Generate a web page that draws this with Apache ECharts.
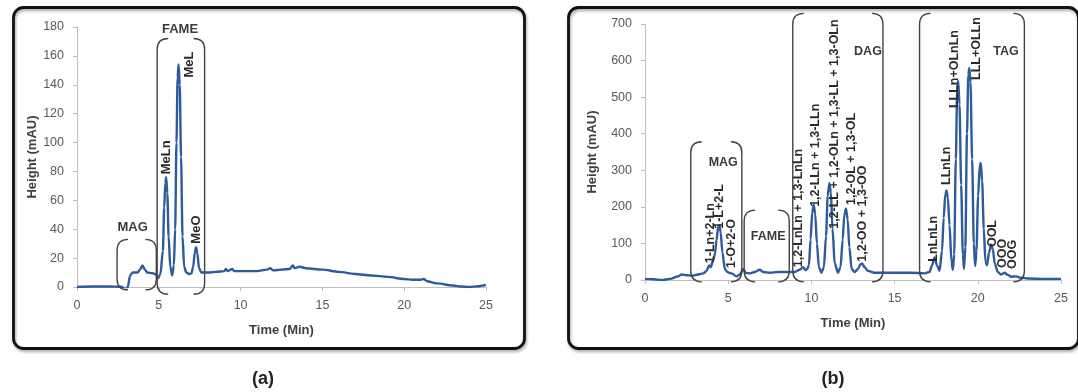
<!DOCTYPE html>
<html><head><meta charset="utf-8">
<script src="https://cdn.jsdelivr.net/npm/echarts@6/dist/echarts.min.js"></script>
<style>html,body{margin:0;padding:0;background:#fff}#c{width:1078px;height:392px}</style>
</head><body><div id="c"></div>
<script>
// ---- Data ----
// (a) chromatogram: [time (min), height (mAU)]
const traceA = [[0,0],[1,0.3],[2,0.3],[2.7,0.2],[2.9,-1],[3.0,-2],[3.1,0],[3.25,8],[3.4,10],[3.7,10],[3.85,12],[4.0,15],[4.15,12],[4.3,10],[4.6,9.5],[4.8,9],[4.95,6],[5.1,9],[5.25,25],[5.33,55],[5.4,72],[5.45,76],[5.52,65],[5.6,35],[5.7,14],[5.82,8],[5.92,15],[6.0,40],[6.08,100],[6.15,145],[6.21,154],[6.28,140],[6.36,90],[6.45,35],[6.55,14],[6.68,10],[6.85,9],[7.0,9.5],[7.1,14],[7.2,24],[7.28,27.5],[7.36,23],[7.46,13],[7.6,10],[8,10],[8.5,10.5],[9.0,11],[9.1,12.5],[9.2,11],[9.5,12.5],[9.6,11],[10,11],[11,11],[11.6,12],[11.8,13],[12,11.5],[12.5,12],[13.0,12.5],[13.2,15],[13.3,13],[13.6,14],[14,13],[15,12],[16,10.5],[17,9],[18,8],[19,7],[20,5.5],[20.5,5],[21,5],[21.2,5.5],[21.4,4],[22,2.5],[23,1],[23.5,0.3],[24,0],[24.5,0.5],[25,1.5]];
// (b) chromatogram
const traceB = [[0,3],[0.5,2],[1,0],[1.5,3],[2,10],[2.2,15],[2.5,13],[2.8,12],[3.2,15],[3.5,18],[3.7,25],[3.85,40],[3.95,35],[4.1,55],[4.2,70],[4.3,110],[4.4,145],[4.47,150],[4.55,130],[4.65,75],[4.8,30],[4.95,22],[5.05,20],[5.2,18],[5.5,10],[5.7,15],[5.9,30],[6.05,20],[6.3,18],[6.6,22],[6.9,28],[7.1,22],[7.5,20],[8,22],[8.5,22],[9,22],[9.3,28],[9.5,35],[9.65,27],[9.75,30],[9.85,40],[9.95,110],[10.05,185],[10.14,205],[10.23,180],[10.33,100],[10.45,35],[10.6,20],[10.75,35],[10.88,120],[10.98,230],[11.08,265],[11.17,240],[11.27,140],[11.4,45],[11.6,20],[11.75,35],[11.88,110],[11.98,180],[12.08,195],[12.18,165],[12.28,90],[12.42,30],[12.6,22],[12.8,30],[12.95,43],[13.05,45],[13.2,35],[13.4,25],[13.8,20],[14.5,20],[15,20],[16,20],[16.8,18],[17.1,22],[17.25,40],[17.4,62],[17.55,40],[17.7,25],[17.85,80],[17.95,170],[18.05,235],[18.12,245],[18.2,225],[18.3,150],[18.42,50],[18.5,28],[18.58,70],[18.68,330],[18.76,520],[18.82,545],[18.9,480],[19.0,260],[19.1,70],[19.17,30],[19.25,90],[19.35,400],[19.43,560],[19.49,580],[19.56,540],[19.66,330],[19.76,100],[19.84,38],[19.92,80],[20.02,230],[20.12,315],[20.18,320],[20.26,270],[20.36,140],[20.46,50],[20.55,40],[20.68,75],[20.8,97],[20.9,85],[21.02,45],[21.2,22],[21.4,15],[21.6,20],[21.8,14],[22,9],[22.3,10],[22.6,6],[23,4],[24,3],[25,3]];
// brackets: [xLeft, xRight, yTop, yBottom]
const bracketsA = [[2.45,4.85,33,-2],[4.9,7.8,172,-5]];
const bracketsB = [[2.75,5.82,378,-5],[5.96,8.67,191,-5],[8.88,14.3,729,-5],[16.5,22.8,729,-5]];
// group names: [x, y, text]
const groupsA = [[3.4,41,'MAG'],[6.3,178,'FAME']];
const groupsB = [[4.7,321,'MAG'],[7.4,118,'FAME'],[13.4,624,'DAG'],[21.7,624,'TAG']];
// peak names (vertical, reading upwards): [x, y of text start, text]
const peaksA = [[5.44,78,'MeLn'],[6.9,145,'MeL'],[7.27,30,'MeO']];
const peaksB = [[3.95,46,'1-Ln+2-Ln'],[4.5,140,'1-L+2-L'],[5.18,33,'1-O+2-O'],[9.2,35,'1,2-LnLn + 1,3-LnLn'],[10.25,200,'1,2-LLn + 1,3-LLn'],[11.42,140,'1,2-LL + 1,2-OLn + 1,3-LL + 1,3-OLn'],[12.4,205,'1,2-OL + 1,3-OL'],[13.1,50,'1,2-OO + 1,3-OO'],[17.35,50,'LnLnLn'],[18.1,260,'LLnLn'],[18.58,470,'LLLn+OLnLn'],[19.9,547,'LLL+OLLn'],[20.9,90,'OOL'],[21.5,33,'OOO'],[22.1,30,'OOG']];

// ---- Chart ----
const FONT = '"Liberation Sans", Arial, sans-serif';
const lineColor = '#2e5a9e';

function bracketItem(list){
  return function(params, api){
    const b = list[params.dataIndex];
    const p0 = api.coord([b[0], b[2]]);
    const p1 = api.coord([b[1], b[3]]);
    const x0=p0[0], x1=p1[0], yt=p0[1], yb=p1[1], r=11;
    const d = 'M'+(x0+r)+','+yt+' Q'+x0+','+yt+' '+x0+','+(yt+r)+' L'+x0+','+(yb-r)+' Q'+x0+','+yb+' '+(x0+r)+','+yb+
              ' M'+(x1-r)+','+yt+' Q'+x1+','+yt+' '+x1+','+(yt+r)+' L'+x1+','+(yb-r)+' Q'+x1+','+yb+' '+(x1-r)+','+yb;
    return {type:'path', shape:{pathData:d, layout:'cover', x:x0, y:yt, width:x1-x0, height:yb-yt},
            style:{stroke:'#444', fill:null, lineWidth:1.4}};
  };
}
function groupItem(list, size){
  return function(params, api){
    const g = list[params.dataIndex];
    const p = api.coord([g[0], g[1]]);
    return {type:'text', x:p[0], y:p[1], style:{text:g[2], align:'center', verticalAlign:'middle',
      font:'bold '+size+'px '+FONT, fill:'#3a3a3a'}};
  };
}
function peakItem(list, size){
  return function(params, api){
    const g = list[params.dataIndex];
    const p = api.coord([g[0], g[1]]);
    return {type:'text', x:p[0], y:p[1], rotation:Math.PI/2, style:{text:g[2], align:'left', verticalAlign:'middle',
      font:'bold '+size+'px '+FONT, fill:'#2a2a2a'}};
  };
}

const axisLabel = {color:'#595959', fontSize:12.5, fontFamily:FONT};
const axisLine = {show:true, lineStyle:{color:'#bfbfbf', width:1}};
const axisTick = {show:true, length:4, lineStyle:{color:'#bfbfbf'}};
const nameStyle = {color:'#404040', fontSize:13, fontWeight:'bold', fontFamily:FONT};

function xAxis(gi){
  return {type:'value', gridIndex:gi, min:0, max:25, interval:5, axisLabel:Object.assign({margin:12}, axisLabel),
    axisLine, axisTick, splitLine:{show:false}, name:'Time (Min)', nameLocation:'middle', nameGap:37, nameTextStyle:nameStyle};
}
function yAxis(gi, max, step, gap){
  return {type:'value', gridIndex:gi, min:0, max:max, interval:step, axisLabel:Object.assign({margin:13}, axisLabel),
    axisLine, axisTick, splitLine:{show:false}, name:'Height (mAU)', nameLocation:'middle', nameGap:gap, nameTextStyle:nameStyle};
}

const chart = echarts.init(document.getElementById('c'), null, {renderer:'canvas'});
chart.setOption({
  animation:false,
  backgroundColor:'#ffffff',
  grid:[
    {left:77, top:27, width:409, height:260},
    {left:645, top:24, width:416, height:256}
  ],
  xAxis:[xAxis(0), xAxis(1)],
  yAxis:[yAxis(0,180,20,33), yAxis(1,700,100,46)],
  graphic:[
    {type:'rect', left:11, top:5, shape:{width:511, height:341, r:10}, z:-1,
     style:{fill:'none', stroke:'#111', lineWidth:2.8, shadowBlur:3, shadowColor:'rgba(0,0,0,0.35)', shadowOffsetX:1, shadowOffsetY:2}},
    {type:'rect', left:566, top:5, shape:{width:510, height:341, r:10}, z:-1,
     style:{fill:'none', stroke:'#111', lineWidth:2.8, shadowBlur:3, shadowColor:'rgba(0,0,0,0.35)', shadowOffsetX:1, shadowOffsetY:2}},
    {type:'text', x:263, y:379, style:{text:'(a)', font:'bold 18px '+FONT, fill:'#222', align:'center', verticalAlign:'middle'}},
    {type:'text', x:833, y:379, style:{text:'(b)', font:'bold 18px '+FONT, fill:'#222', align:'center', verticalAlign:'middle'}}
  ],
  series:[
    {type:'line', xAxisIndex:0, yAxisIndex:0, data:traceA, showSymbol:false, smooth:0.3, smoothMonotone:'x',
     lineStyle:{color:lineColor, width:2.4}, z:3},
    {type:'line', xAxisIndex:1, yAxisIndex:1, data:traceB, showSymbol:false, smooth:0.3, smoothMonotone:'x',
     lineStyle:{color:lineColor, width:2.4}, z:3},
    {type:'custom', xAxisIndex:0, yAxisIndex:0, data:bracketsA.map(b=>[b[0],b[2]]), renderItem:bracketItem(bracketsA), clip:false, silent:true, z:4},
    {type:'custom', xAxisIndex:1, yAxisIndex:1, data:bracketsB.map(b=>[b[0],b[2]]), renderItem:bracketItem(bracketsB), clip:false, silent:true, z:4},
    {type:'custom', xAxisIndex:0, yAxisIndex:0, data:groupsA.map(g=>[g[0],g[1]]), renderItem:groupItem(groupsA, 13), clip:false, silent:true, z:5},
    {type:'custom', xAxisIndex:1, yAxisIndex:1, data:groupsB.map(g=>[g[0],g[1]]), renderItem:groupItem(groupsB, 12.5), clip:false, silent:true, z:5},
    {type:'custom', xAxisIndex:0, yAxisIndex:0, data:peaksA.map(g=>[g[0],g[1]]), renderItem:peakItem(peaksA, 13), clip:false, silent:true, z:5},
    {type:'custom', xAxisIndex:1, yAxisIndex:1, data:peaksB.map(g=>[g[0],g[1]]), renderItem:peakItem(peaksB, 12.5), clip:false, silent:true, z:5}
  ]
});
</script></body></html>
